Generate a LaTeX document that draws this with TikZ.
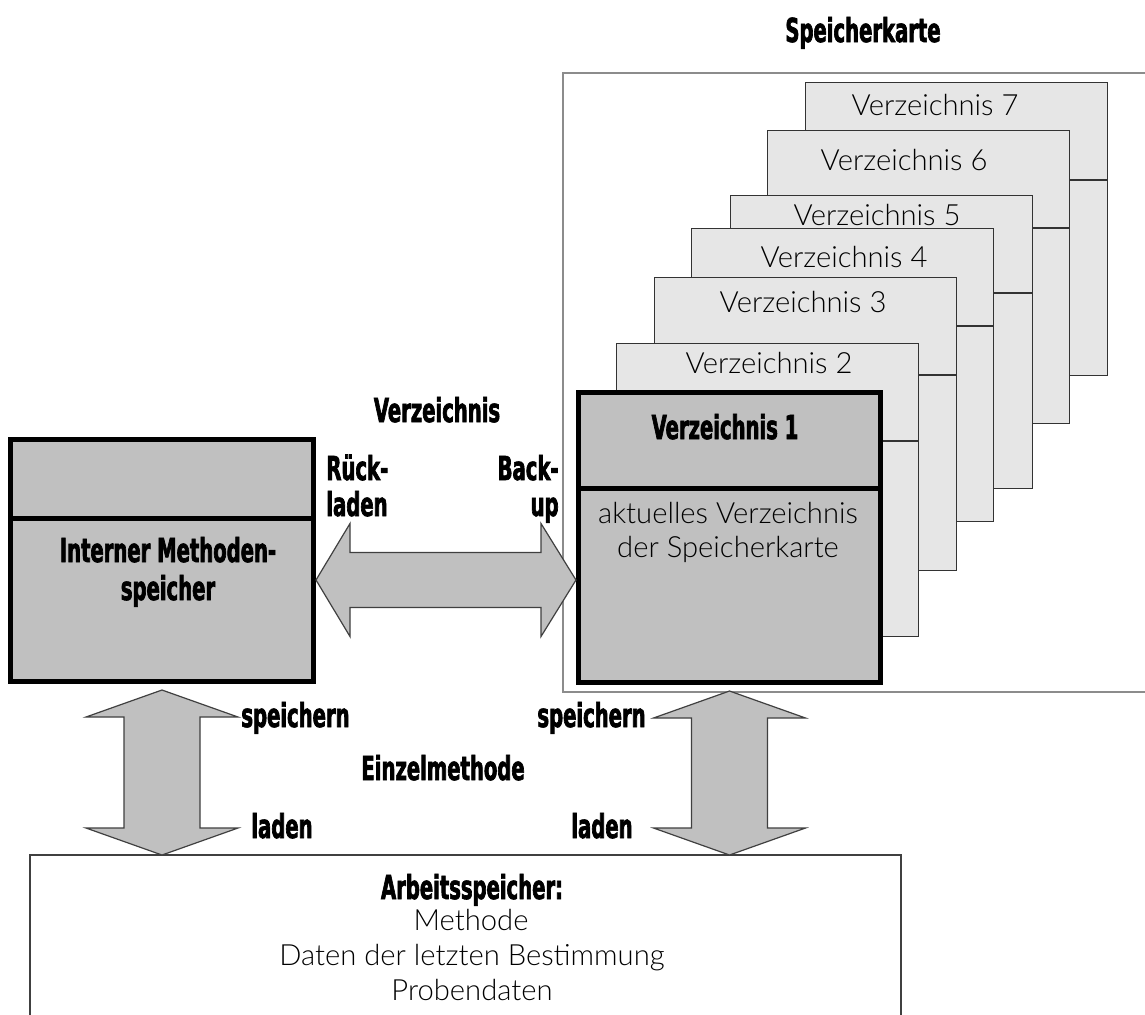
\documentclass[tikz,border=0pt]{standalone}
\usepackage{fontspec}
\usetikzlibrary{positioning,calc}
\IfFontExistsTF{Lato Light}{\setmainfont{Lato Light}}{\setmainfont{Liberation Sans}}
\newfontfamily\fettschrift[FakeStretch=0.66,FakeBold=2]{DejaVu Sans Condensed Bold}

\definecolor{kartegrau}{HTML}{E6E6E6}
\definecolor{blockgrau}{HTML}{C0C0C0}
\definecolor{liniengrau}{HTML}{8C8C8C}

\tikzset{karte/.style={draw=black!80, fill=kartegrau, line width=0.6pt, minimum width=151pt, minimum height=146.5pt, inner sep=0pt, anchor=north west}}
\tikzset{dickbox/.style={draw=black, fill=blockgrau, line width=2.5pt, inner sep=0pt}}
\tikzset{rahmen/.style={draw=liniengrau, line width=0.75pt}}
\tikzset{blockpfeil/.style={draw=black!75, fill=blockgrau, line width=0.6pt, line join=miter}}
\tikzset{fett/.style={font=\fettschrift\fontsize{16.5}{18}\selectfont, inner sep=0pt}}
\tikzset{duenn/.style={font=\fontsize{14.6}{17}\selectfont, inner sep=0pt}}

\begin{document}
\begin{tikzpicture}[x=0.5pt, y=-0.5pt]
		\useasboundingbox (0,0) rectangle (1145,1014);
		\fill[white] (0,0) rectangle (1145,1014);
		
		% SPEICHERKARTE
		\node[inner sep=0pt, minimum width=291pt, minimum height=309pt, anchor=north west] (karte) at (563,73) {};
		\draw[rahmen] (karte.north east) -- (karte.north west) -- (karte.south west) -- (karte.south east);
		\node[fett, anchor=base] (kartetitel) at (863,42) {Speicherkarte};
		
		\foreach \n/\x/\y/\tx/\tb in {7/805/82/935/115, 6/767/130/904/170, 5/730/195/877/225, 4/691/228/844/267, 3/654/277/803/312, 2/616/343/769/373} {
			\node[karte] (vz\n) at (\x,\y) {};
			\draw[draw=black!80, line width=0.6pt] ([yshift=-49pt]vz\n.north west) -- ([yshift=-49pt]vz\n.north east);
			\node[duenn, anchor=base] (vzt\n) at (\tx,\tb) {Verzeichnis \n};
		}
		
		\node[dickbox, minimum width=151pt, minimum height=145pt] (vz1) at (729.5,537.5) {};
		\draw[line width=2.5pt] ([yshift=-49pt]vz1.north west) -- ([yshift=-49pt]vz1.north east);
		\node[fett, anchor=base] (vzt1) at (725,439) {Verzeichnis 1};
		\node[duenn, anchor=base] (vz1text1) at (728,523) {aktuelles Verzeichnis};
		\node[duenn, anchor=base] (vz1text2) at (728,557) {der Speicherkarte};
		
		% INTERNER METHODENSPEICHER
		\node[dickbox, minimum width=151.5pt, minimum height=121pt] (imsp) at (162,560.5) {};
		\draw[line width=2.5pt] ([yshift=-40.5pt]imsp.north west) -- ([yshift=-40.5pt]imsp.north east);
		\node[fett, anchor=base] (imsptext1) at (168,562) {Interner Methoden-};
		\node[fett, anchor=base] (imsptext2) at (168,600) {speicher};
		
		% ARBEITSSPEICHER
		\node[inner sep=0pt, minimum width=435pt, minimum height=82pt, anchor=north west] (arbeit) at (30,855) {};
		\draw[draw=black!75, line width=0.75pt] (arbeit.south west) -- (arbeit.north west) -- (arbeit.north east) -- (arbeit.south east);
		\node[fett, anchor=base] (arbeittitel) at (472,899) {Arbeitsspeicher:};
		\node[duenn, anchor=base] (arbeit1) at (471,930) {Methode};
		\node[duenn, anchor=base] (arbeit2) at (472,965) {Daten der letzten Bestimmung};
		\node[duenn, anchor=base] (arbeit3) at (472,1000) {Probendaten};
		
		% Backup / Rueckladen
		\coordinate (hl) at ([yshift=-9.75pt]imsp.east);
		\coordinate (hr) at (vz1.west |- hl);
		\draw[blockpfeil] (hl) -- ($(hl)+(34,-56.5)$) -- ($(hl)+(34,-27.5)$) -- ($(hr)+(-35,-27.5)$) -- ($(hr)+(-35,-56.5)$) -- (hr)
			-- ($(hr)+(-35,56.5)$) -- ($(hr)+(-35,27.5)$) -- ($(hl)+(34,27.5)$) -- ($(hl)+(34,56.5)$) -- cycle;
		\node[fett, anchor=base] (vzlabel) at (437,422) {Verzeichnis};
		\node[fett, anchor=base west] (rueck1) at (326,480) {Rück-};
		\node[fett, anchor=base west] (rueck2) at (326,516) {laden};
		\node[fett, anchor=base east] (backup1) at (559,480) {Back-};
		\node[fett, anchor=base east] (backup2) at (559,516) {up};
		
		% speichern / laden
		\foreach \oben in {imsp, vz1} {
			\coordinate (\oben-o) at ([yshift=-3pt]\oben.south);
			\coordinate (\oben-u) at (\oben.south |- arbeit.north);
			\draw[blockpfeil] (\oben-o) -- ($(\oben-o)+(76,27)$) -- ($(\oben-o)+(38,27)$) -- ($(\oben-u)+(38,-27)$) -- ($(\oben-u)+(76,-27)$) -- (\oben-u)
				-- ($(\oben-u)+(-76,-27)$) -- ($(\oben-u)+(-38,-27)$) -- ($(\oben-o)+(-38,27)$) -- ($(\oben-o)+(-76,27)$) -- cycle;
		}
		\node[fett, anchor=base west] (speichernL) at (241,727) {speichern};
		\node[fett, anchor=base west] (ladenL) at (251,838) {laden};
		\node[fett, anchor=base west] (einzel) at (361,780) {Einzelmethode};
		\node[fett, anchor=base east] (speichernR) at (646,727) {speichern};
		\node[fett, anchor=base east] (ladenR) at (633,838) {laden};
		
	\end{tikzpicture}
\end{document}
